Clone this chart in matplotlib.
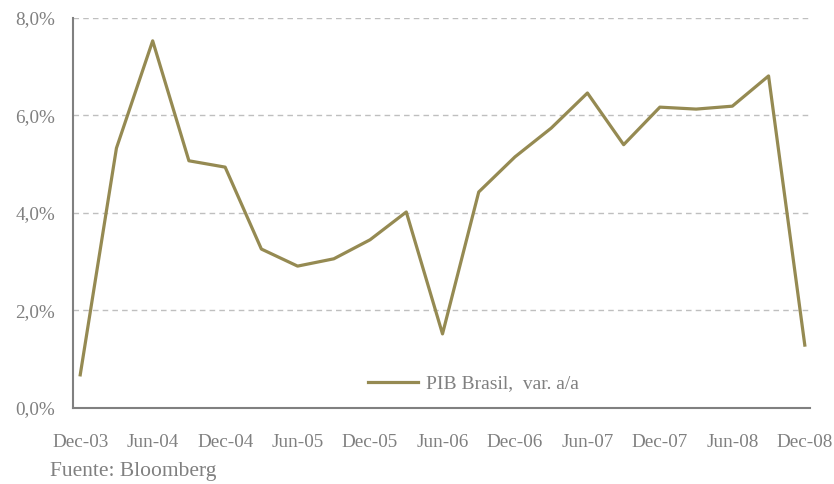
import matplotlib.pyplot as plt
from matplotlib.ticker import FuncFormatter

# PIB Brasil, variacion anual trimestral (%)
trimestres = ['Dec-03', 'Mar-04', 'Jun-04', 'Sep-04', 'Dec-04', 'Mar-05', 'Jun-05',
              'Sep-05', 'Dec-05', 'Mar-06', 'Jun-06', 'Sep-06', 'Dec-06', 'Mar-07',
              'Jun-07', 'Sep-07', 'Dec-07', 'Mar-08', 'Jun-08', 'Sep-08', 'Dec-08']
pib = [0.68, 5.33, 7.53, 5.07, 4.94, 3.26, 2.91, 3.06, 3.45, 4.02, 1.52,
       4.43, 5.15, 5.74, 6.46, 5.40, 6.17, 6.13, 6.19, 6.81, 1.29]

gris = '#808080'
oliva = '#958a52'
plt.rcParams['font.family'] = ['Liberation Serif', 'DejaVu Serif']

fig = plt.figure(figsize=(8.34, 4.84), dpi=100)
ax = fig.add_axes([0.0875, 0.157, 0.884, 0.806])

x = list(range(len(trimestres)))
ax.plot(x, pib, color=oliva, lw=2.3, label='PIB Brasil,  var. a/a')

ax.set_ylim(0, 8)
ax.set_yticks([0, 2, 4, 6, 8])
ax.yaxis.set_major_formatter(FuncFormatter(lambda v, p: f'{v:.1f}%'.replace('.', ',')))
ax.set_xlim(-0.2, 20.15)
ax.set_xticks(x[::2])
ax.set_xticklabels(trimestres[::2])

ax.grid(axis='y', color='#bfbfbf', ls=(0, (4, 3)), lw=1)
ax.set_axisbelow(True)
for s in ['top', 'right']:
    ax.spines[s].set_visible(False)
for s in ['left', 'bottom']:
    ax.spines[s].set_color(gris)
    ax.spines[s].set_linewidth(1.5)
ax.tick_params(length=0, colors=gris, labelsize=13.8)
ax.tick_params(axis='x', pad=19)
ax.tick_params(axis='y', pad=13)

ax.legend(loc='lower center', bbox_to_anchor=(0.543, -0.005), frameon=False,
          fontsize=14, labelcolor=gris, handlelength=2.6, handletextpad=0.4)

fig.text(0.06, 0.016, 'Fuente: Bloomberg', color=gris, fontsize=15.5)

fig.savefig('out.png')
